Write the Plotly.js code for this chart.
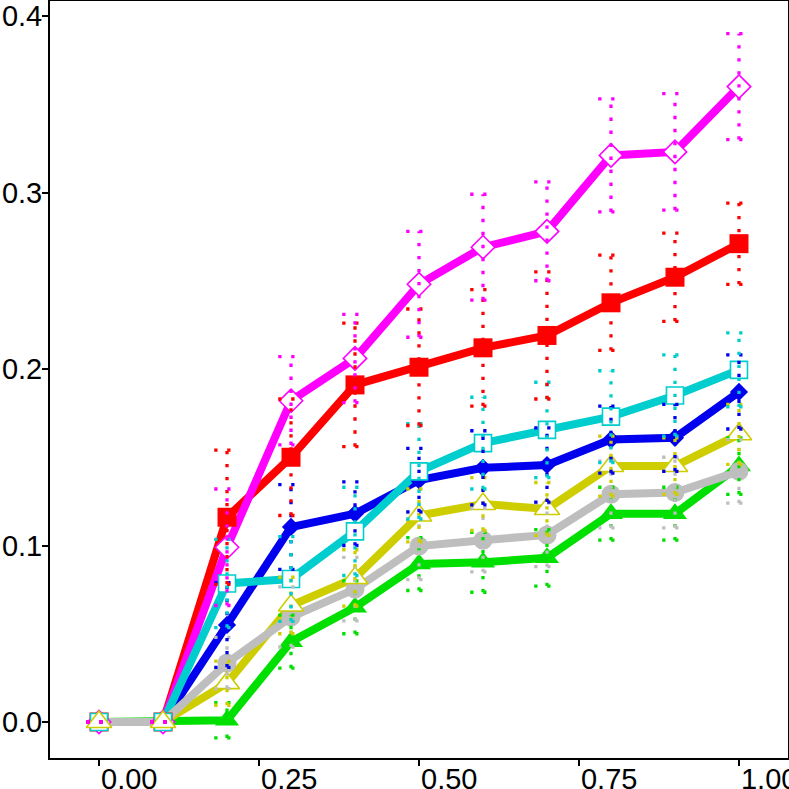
<!DOCTYPE html>
<html>
<head>
<meta charset="utf-8">
<script src="https://cdn.plot.ly/plotly-3.0.1.min.js"></script>
<style>
  html, body { margin: 0; padding: 0; background: #fff; }
  #chart { width: 789px; height: 789px; }
</style>
</head>
<body>
<div id="chart"></div>
<script>
// x positions shared by all series
const xs = [0, 0.1, 0.2, 0.3, 0.4, 0.5, 0.6, 0.7, 0.8, 0.9, 1.0];

const magentaY   = [0, 0, 0.099, 0.182, 0.206, 0.248, 0.269, 0.278, 0.321, 0.323, 0.360];
const magentaErr = [0, 0, 0.033, 0.025, 0.025, 0.030, 0.030, 0.028, 0.032, 0.033, 0.030];
const redY       = [0, 0, 0.116, 0.150, 0.191, 0.201, 0.212, 0.219, 0.2375, 0.252, 0.271];
const redErr     = [0, 0, 0.038, 0.033, 0.035, 0.033, 0.033, 0.036, 0.027, 0.025, 0.023];
const cyanY      = [0, 0, 0.0785, 0.081, 0.108, 0.142, 0.158, 0.1655, 0.173, 0.185, 0.1995];
const cyanErr    = [0, 0, 0.025, 0.024, 0.025, 0.027, 0.026, 0.027, 0.026, 0.023, 0.021];
const blueY      = [0, 0, 0.055, 0.1105, 0.118, 0.137, 0.144, 0.1456, 0.160, 0.161, 0.187];
const blueErr    = [0, 0, 0.024, 0.024, 0.018, 0.018, 0.021, 0.021, 0.019, 0.019, 0.021];
const yellowY    = [0, 0, 0.022, 0.066, 0.0816, 0.117, 0.1235, 0.1207, 0.145, 0.145, 0.163];
const yellowErr  = [0, 0, 0.0125, 0.016, 0.016, 0.015, 0.015, 0.015, 0.017, 0.016, 0.017];
const grayY      = [0, 0, 0.0334, 0.0595, 0.0753, 0.0997, 0.103, 0.106, 0.129, 0.130, 0.142];
const grayErr    = [0, 0, 0.0145, 0.017, 0.018, 0.019, 0.018, 0.018, 0.019, 0.020, 0.018];
const greenY     = [0, 0, 0.001, 0.0455, 0.065, 0.0895, 0.0905, 0.093, 0.118, 0.118, 0.145];
const greenErr   = [0, 0, 0.010, 0.015, 0.015, 0.015, 0.017, 0.016, 0.015, 0.015, 0.016];

const xTicks = [0, 0.25, 0.5, 0.75, 1.0];
const yTicks = [0, 0.1, 0.2, 0.3, 0.4];

// style per series: colour, marker symbol, size, open (white fill) or filled
const series = {
    magenta: {y: magentaY, err: magentaErr, color: '#FF00FF', symbol: 'diamond',     size: 18, open: true},
    red:     {y: redY,     err: redErr,     color: '#FF0000', symbol: 'square',      size: 19, open: false},
    cyan:    {y: cyanY,    err: cyanErr,    color: '#00CDCD', symbol: 'square',      size: 17, open: true},
    blue:    {y: blueY,    err: blueErr,    color: '#0000EE', symbol: 'diamond',     size: 14, open: false},
    yellow:  {y: yellowY,  err: yellowErr,  color: '#CDCD00', symbol: 'triangle-up', size: 22, open: true},
    gray:    {y: grayY,    err: grayErr,    color: '#BEBEBE', symbol: 'circle',      size: 19, open: false},
    green:   {y: greenY,   err: greenErr,   color: '#00E000', symbol: 'triangle-up', size: 21, open: false}
};

const lineOrder   = ['green', 'yellow', 'blue', 'red', 'magenta', 'cyan', 'gray'];
const markerOrder = ['green', 'gray', 'blue', 'red', 'magenta', 'cyan', 'yellow'];
const errOrder    = ['green', 'gray', 'yellow', 'blue', 'cyan', 'red', 'magenta'];

const capHalf = 0.02;

function errorTrace(s) {
    let ex = [], ey = [];
    xs.forEach((x, i) => {
        const lo = s.y[i] - s.err[i], hi = s.y[i] + s.err[i];
        ex.push(x, x, null, x - capHalf, x + capHalf, null, x - capHalf, x + capHalf, null);
        ey.push(lo, hi, null, hi, hi, null, lo, lo, null);
    });
    return {
        x: ex, y: ey, type: 'scatter', mode: 'lines', hoverinfo: 'skip',
        line: {color: s.color, width: 3.3, dash: '3.3px,9.7px'},
        showlegend: false
    };
}

let data = [];
lineOrder.forEach(k => {
    const s = series[k];
    data.push({x: xs, y: s.y, type: 'scatter', mode: 'lines',
               line: {color: s.color, width: 8}, showlegend: false});
});
markerOrder.forEach(k => {
    const s = series[k];
    data.push({x: xs, y: s.y, type: 'scatter', mode: 'markers', showlegend: false,
               marker: {symbol: s.symbol, size: s.size,
                        color: s.open ? '#FFFFFF' : s.color,
                        line: {color: s.color, width: s.open ? 1.6 : 0}}});
});
errOrder.forEach(k => data.push(errorTrace(series[k])));

const layout = {
    width: 789,
    height: 789,
    paper_bgcolor: '#FFFFFF',
    plot_bgcolor: '#FFFFFF',
    showlegend: false,
    font: {family: 'Liberation Sans, Arial, sans-serif', size: 29, color: '#000000'},
    margin: {l: 50, r: 1, t: 1, b: 31, pad: 0},
    xaxis: {
        range: [-0.0766, 1.0766],
        tickvals: xTicks,
        tickformat: '.2f',
        ticklabelposition: 'outside right',
        ticklabeloverflow: 'allow',
        ticklabelstandoff: -6,
        showgrid: false,
        zeroline: false,
        showline: true,
        mirror: true,
        linecolor: '#000000',
        linewidth: 2,
        ticks: 'outside',
        ticklen: 6,
        tickwidth: 2,
        tickcolor: '#000000'
    },
    yaxis: {
        range: [-0.0204, 0.4085],
        tickvals: yTicks,
        tickformat: '.1f',
        ticklabelstandoff: -6,
        showgrid: false,
        zeroline: false,
        showline: true,
        mirror: true,
        linecolor: '#000000',
        linewidth: 2,
        ticks: 'outside',
        ticklen: 6,
        tickwidth: 2,
        tickcolor: '#000000'
    }
};

Plotly.newPlot('chart', data, layout, {displayModeBar: false, staticPlot: true});
</script>
</body>
</html>
